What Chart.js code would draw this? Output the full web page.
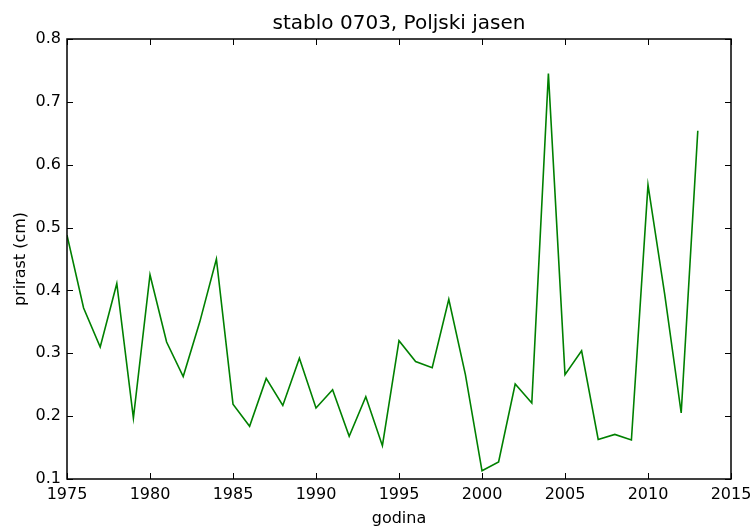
<!DOCTYPE html>
<html>
<head>
<meta charset="utf-8">
<script src="https://cdn.jsdelivr.net/npm/chart.js@4"></script>
<style>
  html, body { margin: 0; padding: 0; background: #ffffff; }
  #wrap { width: 752px; height: 530px; }
</style>
</head>
<body>
<div id="wrap"><canvas id="chart" width="752" height="530"></canvas></div>
<script>
// podaci: godine i prirast (cm)
const years = [1975, 1976, 1977, 1978, 1979, 1980, 1981, 1982, 1983, 1984,
  1985, 1986, 1987, 1988, 1989, 1990, 1991, 1992, 1993, 1994,
  1995, 1996, 1997, 1998, 1999, 2000, 2001, 2002, 2003, 2004,
  2005, 2006, 2007, 2008, 2009, 2010, 2011, 2012, 2013];
const prirast = [0.488, 0.372, 0.310, 0.411, 0.197, 0.425, 0.318, 0.263, 0.350, 0.450,
  0.219, 0.184, 0.260, 0.217, 0.292, 0.213, 0.242, 0.168, 0.231, 0.153,
  0.320, 0.287, 0.277, 0.386, 0.266, 0.113, 0.127, 0.251, 0.221, 0.745,
  0.266, 0.304, 0.163, 0.171, 0.162, 0.568, 0.395, 0.205, 0.654];
const xTicks = [1975, 1980, 1985, 1990, 1995, 2000, 2005, 2010, 2015];
const yTicks = [0.1, 0.2, 0.3, 0.4, 0.5, 0.6, 0.7, 0.8];

const points = years.map((y, i) => ({ x: y, y: prirast[i] }));

// okvir i unutarnje crtice na sve četiri strane (matplotlib stil)
const framePlugin = {
    id: 'frame',
    afterDatasetsDraw(chart) {
        const { ctx, chartArea: a, scales } = chart;
        const len = 6;
        ctx.save();
        ctx.strokeStyle = '#000000';
        ctx.lineWidth = 1;
        xTicks.forEach(v => {
            const px = Math.round(scales.x.getPixelForValue(v)) + 0.5;
            ctx.beginPath();
            ctx.moveTo(px, a.bottom); ctx.lineTo(px, a.bottom - len);
            ctx.moveTo(px, a.top); ctx.lineTo(px, a.top + len);
            ctx.stroke();
        });
        yTicks.forEach(v => {
            const py = Math.round(scales.y.getPixelForValue(v)) + 0.5;
            ctx.beginPath();
            ctx.moveTo(a.left, py); ctx.lineTo(a.left + len, py);
            ctx.moveTo(a.right, py); ctx.lineTo(a.right - len, py);
            ctx.stroke();
        });
        ctx.lineWidth = 1.5;
        ctx.strokeRect(a.left, a.top, a.right - a.left, a.bottom - a.top);
        ctx.restore();
    }
};

const font = { family: '"DejaVu Sans", sans-serif', size: 16 };

new Chart(document.getElementById('chart'), {
    type: 'line',
    data: {
        datasets: [{
            data: points,
            borderColor: '#008000',
            borderWidth: 1.6,
            pointRadius: 0,
            fill: false,
            tension: 0
        }]
    },
    options: {
        responsive: false,
        animation: false,
        layout: { padding: { top: 0, right: 0, bottom: 0, left: 0 } },
        plugins: {
            legend: { display: false },
            tooltip: { enabled: false },
            title: {
                display: true,
                fullSize: false,
                text: 'stablo 0703, Poljski jasen',
                color: '#000000',
                font: { family: font.family, size: 20, weight: 'normal' },
                padding: { top: 12, bottom: 3 }
            }
        },
        scales: {
            x: {
                type: 'linear',
                min: 1975,
                max: 2015,
                grid: { display: false, drawTicks: false },
                border: { display: false },
                ticks: {
                    stepSize: 5,
                    padding: 6,
                    color: '#000000',
                    font: font,
                    maxRotation: 0,
                    callback: v => String(v)
                },
                title: {
                    display: true,
                    text: 'godina',
                    color: '#000000',
                    font: font,
                    padding: { top: 0, bottom: 2 }
                },
                afterFit: s => { s.height = 51; s.paddingRight = 21; }
            },
            y: {
                type: 'linear',
                min: 0.1,
                max: 0.8,
                grid: { display: false, drawTicks: false },
                border: { display: false },
                ticks: {
                    stepSize: 0.1,
                    padding: 6,
                    color: '#000000',
                    font: font,
                    callback: v => v.toFixed(1)
                },
                title: {
                    display: true,
                    text: 'prirast (cm)',
                    color: '#000000',
                    font: font,
                    padding: { top: 11, bottom: 0 }
                },
                afterFit: s => { s.width = 67; }
            }
        }
    },
    plugins: [framePlugin]
});
</script>
</body>
</html>
